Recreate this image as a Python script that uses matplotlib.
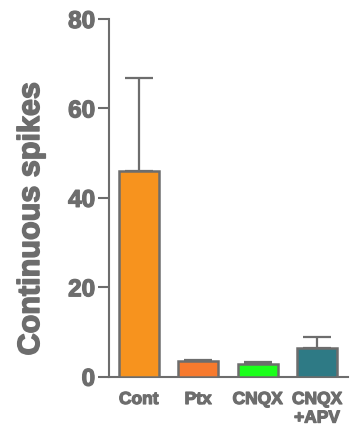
import matplotlib
matplotlib.use("Agg")
import matplotlib.pyplot as plt
import matplotlib.patheffects as pe

categories = ["Cont", "Ptx", "CNQX", "CNQX\n+APV"]
means = [46.1, 3.4, 2.9, 6.5]
errors = [20.8, 0.4, 0.3, 2.4]
colors = ["#F7931E", "#F77A2E", "#1BFF1B", "#2E7A85"]
yticks = [0, 20, 40, 60, 80]

grey = "#6d6d6d"
plt.rcParams["font.family"] = ["Liberation Sans", "DejaVu Sans"]
heavy = [pe.withStroke(linewidth=0.9, foreground=grey)]

fig = plt.figure(figsize=(3.58, 4.31), dpi=100)
ax = fig.add_axes([109 / 358, 53.3 / 431, (348 - 109) / 358, (377.7 - 20) / 431])

x = range(len(categories))
ax.bar(x, means, width=0.67, color=colors, edgecolor=grey, linewidth=1.8, zorder=3)
ax.errorbar(x, means, yerr=[[0] * len(errors), errors], fmt="none", ecolor=grey,
            elinewidth=1.6, capsize=10, capthick=1.6, zorder=2)

ax.set_xlim(-0.5, 3.52)
ax.set_ylim(0, 80)
ax.set_yticks(yticks)
ax.set_yticklabels([str(v) for v in yticks], fontsize=17.5, fontweight="bold", color=grey)
ax.set_xticks(list(x))
ax.set_xticklabels(categories, fontsize=12.5, fontweight="bold", color=grey, linespacing=1.3)
for t in ax.get_yticklabels() + ax.get_xticklabels():
    t.set_path_effects(heavy)
ax.tick_params(axis="x", length=0, pad=11)
ax.tick_params(axis="y", length=8, width=1.5, color=grey, pad=2)

for s in ["top", "right"]:
    ax.spines[s].set_visible(False)
for s in ["left", "bottom"]:
    ax.spines[s].set_color(grey)
    ax.spines[s].set_linewidth(1.5)

fig.text(31 / 358, 211 / 431, "Continuous spikes", rotation=90, ha="center", va="center",
         fontsize=22, fontweight="bold", color=grey,
         path_effects=[pe.withStroke(linewidth=1.1, foreground=grey)])

fig.savefig("out.png", dpi=100)
